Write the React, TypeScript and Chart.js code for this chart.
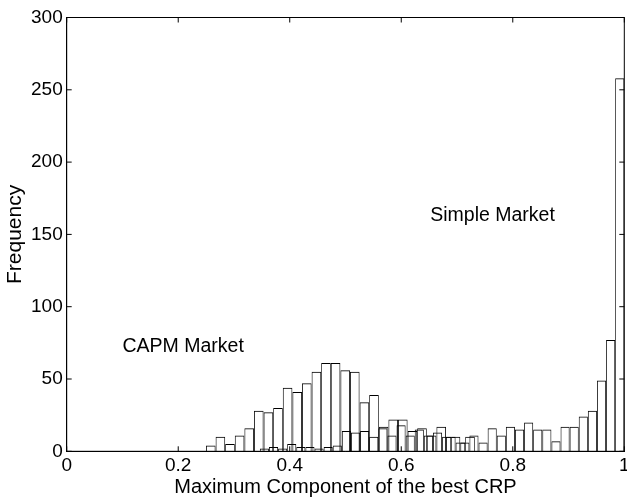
import React, { useEffect, useRef } from "react";
import { Chart, registerables } from "chart.js";

Chart.register(...registerables);

// Histogram bin ranges (data units on the x axis)
const capmRange = [0.2498, 0.9385];
const simpleRange = [0.3464, 1.0];

// Frequencies per bin
const capmCounts = [
  4, 10, 5, 11, 16, 28, 27, 30, 44, 41, 47, 55, 61, 61, 56, 55, 34, 39, 17, 22,
  22, 14, 16, 11, 17, 10, 6, 10, 0, 0, 0, 0, 0, 0, 0, 0, 0, 0, 0, 0,
];
const simpleCounts = [
  2, 3, 2, 5, 3, 3, 2, 3, 4, 14, 13, 14, 10, 16, 11, 18, 11, 15, 11, 13, 10, 10,
  6, 11, 6, 16, 11, 17, 15, 20, 15, 15, 7, 17, 17, 24, 28, 49, 77, 258,
];

const xTicks = [0, 0.2, 0.4, 0.6, 0.8, 1];
const yTicks = [0, 50, 100, 150, 200, 250, 300];

const annotations = [
  { text: "CAPM Market", x: 0.1, y: 69 },
  { text: "Simple Market", x: 0.652, y: 159 },
];

const FONT = "'Liberation Sans', Arial, Helvetica, sans-serif";

function toPoints(counts: number[], range: number[]) {
  const w = (range[1] - range[0]) / counts.length;
  return counts.map((c, i) => ({ x: range[0] + (i + 0.5) * w, y: c }));
}

const framePlugin = {
  id: "frame",
  afterDraw(chart: any) {
    const { ctx, chartArea: a, scales } = chart;
    ctx.save();
    ctx.strokeStyle = "#000";
    ctx.lineWidth = 1;
    ctx.strokeRect(a.left, a.top, a.right - a.left, a.bottom - a.top);
    const tl = 5;
    ctx.beginPath();
    xTicks.forEach((v) => {
      const px = scales.x.getPixelForValue(v);
      ctx.moveTo(px, a.bottom);
      ctx.lineTo(px, a.bottom - tl);
      ctx.moveTo(px, a.top);
      ctx.lineTo(px, a.top + tl);
    });
    yTicks.forEach((v) => {
      const py = scales.y.getPixelForValue(v);
      ctx.moveTo(a.left, py);
      ctx.lineTo(a.left + tl, py);
      ctx.moveTo(a.right, py);
      ctx.lineTo(a.right - tl, py);
    });
    ctx.stroke();
    ctx.fillStyle = "#000";
    ctx.font = `19.5px ${FONT}`;
    ctx.textAlign = "left";
    ctx.textBaseline = "alphabetic";
    annotations.forEach((an) => {
      ctx.fillText(an.text, scales.x.getPixelForValue(an.x), scales.y.getPixelForValue(an.y));
    });
    ctx.restore();
  },
};

export default function App() {
  const ref = useRef<HTMLCanvasElement | null>(null);
  useEffect(() => {
    document.body.style.margin = "0";
    if (!ref.current) return;
    const barCommon = {
      backgroundColor: "rgba(255,255,255,0)",
      borderColor: "#000",
      borderWidth: { top: 1, left: 0.8, right: 0.8, bottom: 0 },
      borderSkipped: "start",
      inflateAmount: 0,
      barPercentage: 1,
      categoryPercentage: 1,
      grouped: false,
    };
    const chart = new Chart(ref.current, {
      type: "bar",
      data: {
        datasets: [
          { ...barCommon, label: "CAPM Market", data: toPoints(capmCounts, capmRange), xAxisID: "x" },
          { ...barCommon, label: "Simple Market", data: toPoints(simpleCounts, simpleRange), xAxisID: "x2" },
        ],
      },
      options: {
        animation: false,
        responsive: false,
        devicePixelRatio: 1,
        layout: { padding: { left: 0, right: 2.7, top: 17.5, bottom: 0 } },
        plugins: { legend: { display: false }, tooltip: { enabled: false } },
        scales: {
          x: {
            type: "linear",
            min: 0,
            max: 1,
            offset: false,
            grid: { display: false, drawTicks: false, offset: false },
            border: { display: true, color: "#000" },
            ticks: {
              stepSize: 0.2,
              color: "#000",
              padding: 3,
              font: { family: FONT, size: 19 },
              maxRotation: 0,
              callback: (v: any) => String(Math.round(Number(v) * 10) / 10),
            },
            title: {
              display: true,
              text: "Maximum Component of the best CRP",
              color: "#000",
              font: { family: FONT, size: 20, lineHeight: 1 },
              padding: { top: 0, bottom: 0 },
            },
            afterFit(scale: any) {
              scale.height = 45.7;
              scale.paddingLeft = 0;
              scale.paddingRight = 0;
            },
          },
          x2: {
            type: "linear",
            min: 0,
            max: 1,
            offset: false,
            display: false,
            grid: { display: false, offset: false },
          },
          y: {
            min: 0,
            max: 300,
            grid: { display: false, drawTicks: false },
            border: { display: true, color: "#000" },
            ticks: {
              stepSize: 50,
              color: "#000",
              padding: 4,
              font: { family: FONT, size: 19 },
            },
            title: {
              display: true,
              text: "Frequency",
              color: "#000",
              font: { family: FONT, size: 21, lineHeight: 1 },
              padding: { top: 5, bottom: 0 },
            },
            afterFit(scale: any) {
              scale.width = 66.7;
              scale.paddingTop = 0;
              scale.paddingBottom = 0;
            },
          },
        },
      },
      plugins: [framePlugin],
    } as any);
    return () => chart.destroy();
  }, []);
  return (
    <div style={{ width: 627, height: 497, background: "#fff" }}>
      <canvas ref={ref} width={627} height={497} />
    </div>
  );
}
